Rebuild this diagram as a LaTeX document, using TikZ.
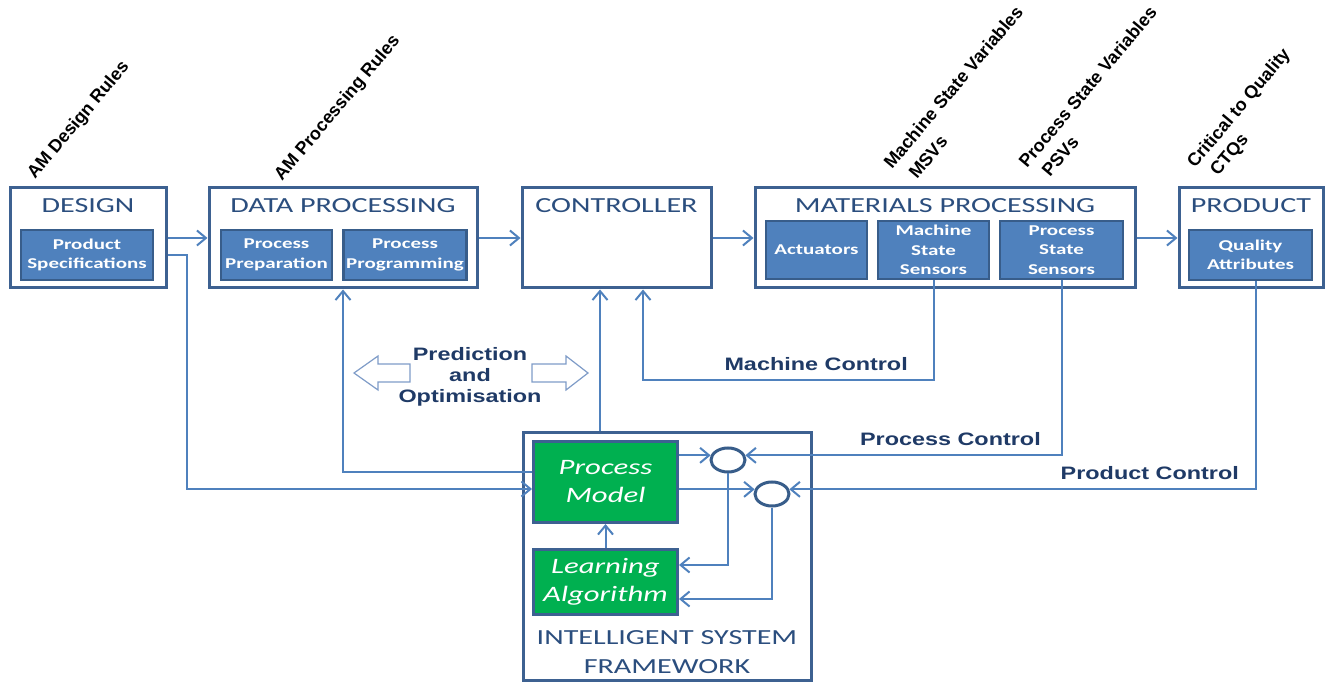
\documentclass[tikz,border=0pt]{standalone}
\usepackage{fontspec}
\usetikzlibrary{arrows.meta,calc,shapes.geometric}
\newfontfamily\calib[FakeStretch=1.4]{Carlito}
\newfontfamily\lsw[FakeStretch=1.3]{Liberation Sans}
\newfontfamily\lsn{Liberation Sans}
\definecolor{boxline}{HTML}{3D6191}
\definecolor{innerfill}{HTML}{4F81BD}
\definecolor{innerline}{HTML}{385D8A}
\definecolor{conncol}{HTML}{4F81BD}
\definecolor{ttlcol}{HTML}{2B4E7E}
\definecolor{lblcol}{HTML}{1F3A66}
\definecolor{grn}{HTML}{00B050}
\definecolor{blockline}{HTML}{7F9CC8}
\begin{document}
\begin{tikzpicture}[x=1pt,y=-1pt,
 obox/.style={draw=boxline, line width=3pt, fill=white, rectangle, inner sep=0pt},
 ibox/.style={draw=innerline, line width=2.5pt, fill=innerfill, rectangle, inner sep=0pt, text=white, font=\calib\bfseries\fontsize{15}{19.5}\selectfont, align=center},
 gbox/.style={draw=boxline, line width=3pt, fill=grn, rectangle, inner sep=0pt, text=white, font=\calib\itshape\fontsize{22}{28}\selectfont, align=center},
 ttl/.style={text=ttlcol, font=\calib\fontsize{21.5}{29}\selectfont, inner sep=0pt, anchor=base},
 lbl/.style={text=lblcol, font=\lsw\bfseries\fontsize{18}{21}\selectfont, inner sep=0pt},
 rlbl/.style={text=black, font=\lsn\bfseries\fontsize{18}{22}\selectfont, inner sep=0pt, anchor=base west, rotate=50},
 cn/.style={draw=conncol, line width=2pt},
 arr/.style={cn, -{Straight Barb[length=9pt,width=15pt,line width=2pt]}},
 sumnode/.style={ellipse, draw=innerline, line width=3pt, fill=white, minimum width=34pt, minimum height=24pt, inner sep=0pt},
 blockarr/.style={draw=blockline, line width=1.2pt, fill=white, line join=miter}
]
\useasboundingbox (0,0) rectangle (1326,684);

% outer boxes
\node[obox, minimum width=156pt, minimum height=100pt] (DES) at (88,238) {};
\node[obox, minimum width=268pt, minimum height=100pt] (DP) at (343,238) {};
\node[obox, minimum width=189pt, minimum height=100pt] (CTRL) at (616.5,238) {};
\node[obox, minimum width=380pt, minimum height=100pt] (MP) at (945,238) {};
\node[obox, minimum width=144pt, minimum height=100pt] (PROD) at (1251,238) {};

% titles
\node[ttl] (tDES) at (88,213) {DESIGN};
\node[ttl] (tDP) at (343,213) {DATA PROCESSING};
\node[ttl] (tCTRL) at (616.5,213) {CONTROLLER};
\node[ttl] (tMP) at (945,213) {MATERIALS PROCESSING};
\node[ttl] (tPROD) at (1251,213) {PRODUCT};

% inner boxes
\node[ibox, minimum width=132pt, minimum height=50pt] (PS) at (87,255) {Product\\Specifications};
\node[ibox, minimum width=111pt, minimum height=50pt] (PPR) at (276.5,255) {Process\\Preparation};
\node[ibox, minimum width=123pt, minimum height=50pt] (PPG) at (405,255) {Process\\Programming};
\node[ibox, minimum width=101pt, minimum height=58pt] (ACT) at (816.5,250) {Actuators};
\node[ibox, minimum width=111pt, minimum height=58pt] (MSS) at (933.5,250) {Machine\\State\\Sensors};
\node[ibox, minimum width=123pt, minimum height=58pt] (PSS) at (1061.5,250) {Process\\State\\Sensors};
\node[ibox, minimum width=123pt, minimum height=50pt] (QA) at (1250.5,255) {Quality\\Attributes};

% intelligent system framework
\node[obox, minimum width=288pt, minimum height=248pt] (ISF) at (667,556.5) {};
\node[ttl] (tISF1) at (667,644) {INTELLIGENT SYSTEM};
\node[ttl] (tISF2) at (667,673) {FRAMEWORK};
\node[gbox, minimum width=144pt, minimum height=81pt] (PM) at (605.5,482) {Process\\Model};
\node[gbox, minimum width=144pt, minimum height=65pt] (LA) at (605.5,582) {Learning\\Algorithm};
\node[sumnode] (S1) at (728,460) {};
\node[sumnode] (S2) at (772,494) {};

% prediction and optimisation
\node[lbl, align=center] (PO) at (470,377) {Prediction\\and\\Optimisation};
\draw[blockarr] (354,373) -- (378,356) -- (378,364) -- (410,364) -- (410,382) -- (378,382) -- (378,390) -- cycle;
\draw[blockarr] (588,373) -- (566,356) -- (566,364) -- (532,364) -- (532,382) -- (566,382) -- (566,390) -- cycle;

% connectors
\draw[arr] (DES.east) -- (DP.west);
\draw[arr] (DP.east) -- (CTRL.west);
\draw[arr] (CTRL.east) -- (MP.west);
\draw[arr] (MP.east) -- (PROD.west);

\coordinate (dj) at (187,489);
\draw[arr] (DES.east |- PS.east) -| (dj) -- (PM.west |- dj);
\coordinate (pj) at (343,472);
\draw[arr] (PM.west |- pj) -- (pj) -- (DP.south);
\coordinate (ic) at (600,0);
\draw[arr] (ISF.north -| ic) -- (CTRL.south -| ic);
\coordinate (mc) at (643,380);
\draw[arr] (MSS.south) |- (mc) -- (CTRL.south -| mc);
\draw[arr] (PSS.south) |- (S1.15);
\draw[arr] ($(QA.south)+(5,0)$) |- (S2.15);
\draw[arr] (PM.east |- S1.165) -- (S1.165);
\draw[arr] (PM.east |- S2.165) -- (S2.165);
\draw[arr] (S1.south) |- ($(LA.east)+(0,-17)$);
\draw[arr] (S2.south) |- ($(LA.east)+(0,17)$);
\draw[arr] (LA.north) -- (PM.south);

% labels
\node[lbl, anchor=base east] (lMC) at (908,371) {Machine Control};
\node[lbl, anchor=base east] (lPC) at (1041,446) {Process Control};
\node[lbl, anchor=base east] (lPRC) at (1239,479) {Product Control};

% rotated labels
\node[rlbl] (r1) at (35,180) {AM Design Rules};
\node[rlbl] (r2) at (282,182) {AM Processing Rules};
\node[rlbl] (r3a) at (892,170) {Machine State Variables};
\node[rlbl] (r3b) at (917,180) {MSVs};
\node[rlbl] (r4a) at (1027,169) {Process State Variables};
\node[rlbl] (r4b) at (1050,178) {PSVs};
\node[rlbl] (r5a) at (1195,169) {Critical to Quality};
\node[rlbl] (r5b) at (1218,177) {CTQs};
\end{tikzpicture}
\end{document}
